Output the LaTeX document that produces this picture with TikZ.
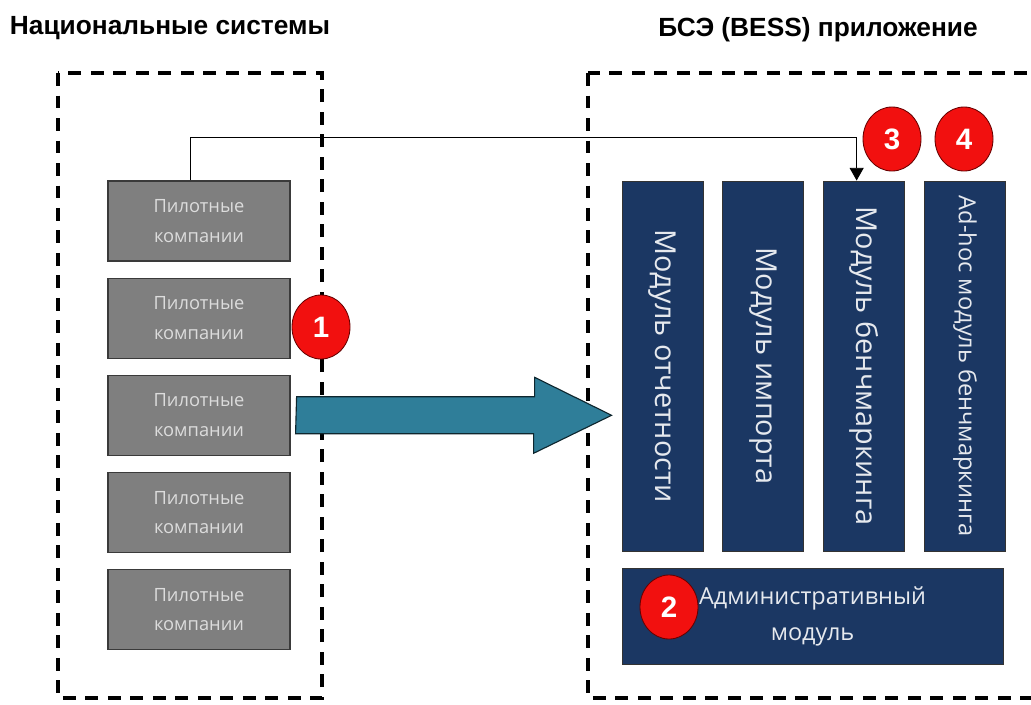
\documentclass[tikz,border=0pt]{standalone}
\usepackage{fontspec}
\setmainfont{Open Sans}
\newfontfamily\headfont{Liberation Sans}
\usepackage{graphicx}
\usepackage{tikz}
\usetikzlibrary{arrows.meta,calc,positioning,shapes.geometric}
\definecolor{pilotgray}{HTML}{7F7F7F}
\definecolor{pilotline}{HTML}{3A3A3A}
\definecolor{pilottext}{HTML}{DCDCDC}
\definecolor{navy}{HTML}{1B3763}
\definecolor{modtext}{HTML}{E6E9EE}
\definecolor{teal}{HTML}{2F7E99}
\definecolor{badgered}{HTML}{F2100F}
\tikzset{
    every node/.style={font=\small},
    heading/.style={font=\headfont\bfseries\fontsize{18.7}{22}\selectfont},
    pilot/.style={draw=pilotline,thick,fill=pilotgray,text=pilottext,align=center,
        minimum width=4.55cm,minimum height=2cm,inner sep=0pt,font=\fontsize{13}{21}\selectfont},
    module/.style={draw=black!80,fill=navy,text=modtext,minimum width=2.025cm,
        minimum height=9.25cm,inner sep=0pt,font=\fontsize{20.5}{24}\selectfont},
    admin/.style={draw=black!80,fill=navy,text=modtext,align=center,minimum width=9.525cm,
        minimum height=2.375cm,inner sep=0pt,font=\fontsize{16.7}{25}\selectfont},
    badge/.style={ellipse,draw=red!40!black,fill=badgered,text=white,minimum width=1.45cm,
        minimum height=1.6cm,inner sep=0pt,font=\headfont\bfseries\fontsize{21}{24}\selectfont},
    zone/.style={draw=black,line width=2.2pt,dash pattern=on 9pt off 7pt},
    bigarrow/.style={fill=teal,draw=black!70!teal,thick}
}

\begin{document}
\begin{tikzpicture}[
            x = 0.025cm, y = -0.025cm, % one unit = one pixel of the picture
            > = {Triangle[length=9pt,width=10pt]}, % arrow head style
            semithick % line style
        ]
        \useasboundingbox (0,0) rectangle (1031,704);

        % the two systems
        \node[heading] (tl) at (170,28) {Национальные системы};
        \node[heading] (tr) at (818,30) {БСЭ (BESS) приложение};
        \draw[zone] (58,73) rectangle (322,698);
        \draw[zone] (588,73) rectangle (1060,698);

        % pilot companies
        \node[pilot] (p1) at (199,221) {Пилотные\\компании};
        \node[pilot] [below=0.4cm of p1] (p2) {Пилотные\\компании};
        \node[pilot] [below=0.4cm of p2] (p3) {Пилотные\\компании};
        \node[pilot] [below=0.4cm of p3] (p4) {Пилотные\\компании};
        \node[pilot] [below=0.4cm of p4] (p5) {Пилотные\\компании};

        % BESS modules
        \node[module] (c1) at (662.5,366) {\rotatebox{-90}{Модуль отчетности}};
        \node[module] [right=0.475cm of c1] (c2) {\rotatebox{-90}{Модуль импорта}};
        \node[module] [right=0.475cm of c2] (c3) {\rotatebox{-90}{Модуль бенчмаркинга}};
        \node[module, font=\fontsize{16.8}{20}\selectfont] [right=0.475cm of c3] (c4)
            {\rotatebox{-90}{Ad-hoc модуль бенчмаркинга}};
        \node[admin] [below right=0.425cm and 0cm of c1.south west] (adm)
            {Административный\\модуль};

        % data flow
        \fill[bigarrow] ($(p3.east)+(6,-18.5)$) -- ++(238,0) -- ++(0,-19.5)
            -- ($(c1.west |- p3.east)+(-10,0)$) -- ++(-78,38) -- ++(0,-19.5)
            -- ++(-238,0) -- cycle;
        \draw[->] ([xshift=-0.225cm]p1.north) -- ++(0,-43) -| ([xshift=-0.19cm]c3.north);

        % numbered steps
        \node[badge] (b1) at (321,327) {1};
        \node[badge] (b2) at (669,607) {2};
        \node[badge] (b3) at (892,139) {3};
        \node[badge] (b4) at (964,139) {4};

\end{tikzpicture}
\end{document}
